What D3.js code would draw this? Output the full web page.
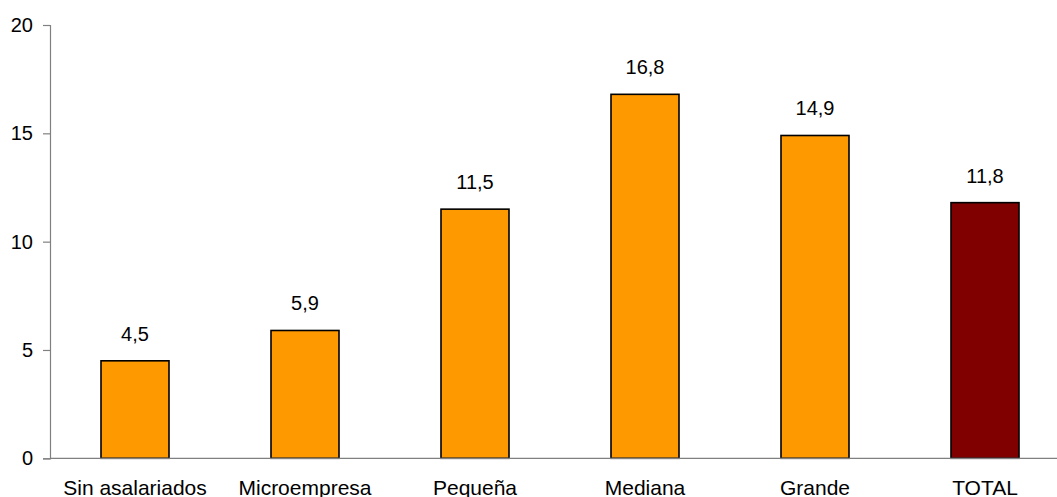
<!DOCTYPE html>
<html>
<head>
<meta charset="utf-8">
<script src="https://cdn.jsdelivr.net/npm/d3@7"></script>
<style>
  html, body { margin: 0; padding: 0; background: #fff; }
  svg { display: block; }
  text { font-family: "Liberation Sans", Arial, sans-serif; fill: #000; }
</style>
</head>
<body>
<svg id="chart" width="1057" height="497"></svg>
<script>
const categories = ["Sin asalariados", "Microempresa", "Pequeña", "Mediana", "Grande", "TOTAL"];
const values = [4.5, 5.9, 11.5, 16.8, 14.9, 11.8];
const barColors = ["#FF9900", "#FF9900", "#FF9900", "#FF9900", "#FF9900", "#800000"];
const yTicks = [0, 5, 10, 15, 20];

const svg = d3.select("#chart");
const x0 = 50, x1 = 1070, yTop = 25, yBottom = 458.3;

const x = d3.scaleBand().domain(categories).range([x0, x1]).paddingInner(0.6).paddingOuter(0.3);
const y = d3.scaleLinear().domain([0, 20]).range([yBottom, yTop]);

// y axis
const yAxis = svg.append("g").attr("transform", `translate(${x0},0)`)
  .call(d3.axisLeft(y).tickValues(yTicks).tickSize(7).tickPadding(10).tickFormat(d3.format("d")));
yAxis.select(".domain").attr("stroke", "#808080").attr("stroke-width", 1.2);
yAxis.selectAll(".tick line").attr("stroke", "#808080").attr("stroke-width", 1.2);
yAxis.selectAll(".tick text").attr("font-size", 20).attr("font-family", "Liberation Sans, Arial, sans-serif").attr("fill", "#000");

// bars
const fmt = v => d3.format(".1f")(v).replace(".", ",");
svg.append("g").selectAll("rect").data(values).join("rect")
  .attr("x", (d, i) => x(categories[i]))
  .attr("y", d => y(d))
  .attr("width", x.bandwidth())
  .attr("height", d => y(0) - y(d))
  .attr("fill", (d, i) => barColors[i])
  .attr("stroke", "#000")
  .attr("stroke-width", 1.6);

// x axis line
svg.append("line").attr("x1", x0).attr("x2", 1057).attr("y1", y(0)).attr("y2", y(0))
  .attr("stroke", "#808080").attr("stroke-width", 1.2);

// value labels
svg.append("g").selectAll("text").data(values).join("text")
  .attr("x", (d, i) => x(categories[i]) + x.bandwidth() / 2)
  .attr("y", d => y(d) - 20)
  .attr("text-anchor", "middle")
  .attr("font-size", 20)
  .text(d => fmt(d));

// category labels
svg.append("g").selectAll("text").data(categories).join("text")
  .attr("x", d => x(d) + x.bandwidth() / 2)
  .attr("y", 495)
  .attr("text-anchor", "middle")
  .attr("font-size", 21)
  .text(d => d);
</script>
</body>
</html>
